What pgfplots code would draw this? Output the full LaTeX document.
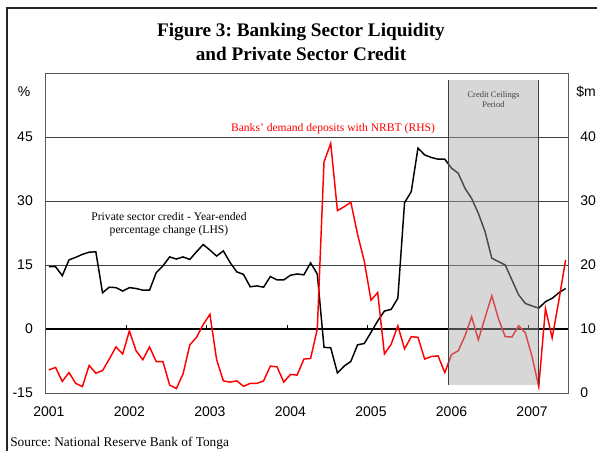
\documentclass[border=0pt]{standalone}
\usepackage{fontspec}
\setmainfont{Liberation Serif}
\setsansfont{Liberation Sans}
\usepackage{pgfplots}
\pgfplotsset{compat=1.18}
\newcommand{\pp}[2]{({(#1)*0.75pt},{-(#2)*0.75pt})}
\frenchspacing
\begin{document}
\begin{tikzpicture}
\path[use as bounding box] (0,0) rectangle (447.75pt,-338.25pt);
\draw[line width=1.4pt, black!85] \pp{7}{451} -- \pp{7}{8} -- \pp{597}{8};
\begin{axis}[
  at={(34.125pt,-294.75pt)}, anchor=south west, scale only axis,
  width=392.6pt, height=240pt,
  xmin=-0.5, xmax=77.5, ymin=-15, ymax=60,
  xtick={0,12,24,36,48,60,72},
  xticklabels={2001,2002,2003,2004,2005,2006,2007},
  ytick={-15,0,15,30,45},
  yticklabels={-15,0,15,30,45},
  major tick length=0pt,
  ymajorgrids, grid style={black!75, line width=0.6pt},
  tick label style={font=\sffamily\fontsize{10.5}{12}\selectfont},
  xticklabel style={yshift=-7pt},
  yticklabel style={xshift=-6pt},
  ytick pos=left, xtick pos=bottom,
  axis line style={black!65, line width=0.7pt},
]
\draw[black, line width=0.8pt] (axis cs:-0.5,0) -- (axis cs:77.5,0);
\pgfplotsinvokeforeach{11.5,23.5,35.5,47.5,59.5,71.5}{
  \draw[black, line width=0.6pt] (axis cs:#1,0) -- (axis cs:#1,0.9);
}
\addplot[black, line width=1.1pt] coordinates {
(0,14.6) (1,14.6) (2,12.5) (3,16.2) (4,16.8) (5,17.5) (6,18.0) (7,18.1)
(8,8.5) (9,9.8) (10,9.7) (11,8.9) (12,9.7) (13,9.5) (14,9.1) (15,9.1)
(16,13.2) (17,14.8) (18,16.9) (19,16.4) (20,16.9) (21,16.3) (22,18.1) (23,19.8)
(24,18.5) (25,17.1) (26,18.3) (27,15.6) (28,13.4) (29,12.8) (30,9.9) (31,10.1)
(32,9.8) (33,12.3) (34,11.5) (35,11.5) (36,12.6) (37,12.9) (38,12.7) (39,15.5)
(40,12.9) (41,-4.3) (42,-4.4) (43,-10.3) (44,-8.7) (45,-7.6) (46,-3.7) (47,-3.4)
(48,-0.8) (49,1.9) (50,4.2) (51,4.6) (52,7.2) (53,29.6) (54,32.2) (55,42.4)
(56,40.8) (57,40.2) (58,39.8) (59,39.8) (60,37.7) (61,36.5) (62,33.0) (63,30.6)
(64,27.1) (65,22.8) (66,16.6) (67,15.8) (68,15.0) (69,11.5) (70,8.0) (71,6.0)
(72,5.4) (73,4.9) (74,6.4) (75,7.2) (76,8.5) (77,9.5)
};
\end{axis}
\begin{axis}[
  at={(34.125pt,-294.75pt)}, anchor=south west, scale only axis,
  width=392.6pt, height=240pt,
  xmin=-0.5, xmax=77.5, ymin=0, ymax=50,
  axis x line=none, axis y line*=right,
  ytick={0,10,20,30,40},
  yticklabels={0,10,20,30,40},
  major tick length=0pt,
  tick label style={font=\sffamily\fontsize{10.5}{12}\selectfont},
  yticklabel style={xshift=5pt},
  axis line style={black!65, line width=0.7pt},
]
\addplot[red, line width=1.1pt] coordinates {
(0,3.6) (1,4.0) (2,1.8) (3,3.2) (4,1.5) (5,1.0) (6,4.3) (7,3.1)
(8,3.5) (9,5.3) (10,7.2) (11,6.1) (12,9.7) (13,6.6) (14,5.2) (15,7.2)
(16,4.9) (17,4.9) (18,1.25) (19,0.7) (20,3.0) (21,7.5) (22,8.7) (23,10.7)
(24,12.3) (25,5.2) (26,1.9) (27,1.7) (28,1.9) (29,1.05) (30,1.5) (31,1.5)
(32,1.9) (33,4.2) (34,4.1) (35,1.7) (36,2.9) (37,2.8) (38,5.3) (39,5.4)
(40,10.0) (41,36.1) (42,39.0) (43,28.5) (44,29.1) (45,29.8) (46,24.8) (47,20.6)
(48,14.5) (49,15.7) (50,6.1) (51,7.6) (52,10.5) (53,6.9) (54,8.8) (55,8.7)
(56,5.3) (57,5.7) (58,5.8) (59,3.2) (60,6.0) (61,6.6) (62,8.9) (63,11.9)
(64,8.3) (65,11.8) (66,15.2) (67,11.6) (68,8.8) (69,8.75) (70,10.5) (71,9.4)
(72,5.7) (73,1.0) (74,13.2) (75,8.6) (76,14.5) (77,20.8)
};
\fill[black!35, fill opacity=0.45] (axis cs:59.5,1.25) rectangle (axis cs:73,48.9);
\draw[black!75, line width=0.7pt] (axis cs:59.5,1.25) -- (axis cs:59.5,48.9);
\draw[black!75, line width=0.7pt] (axis cs:73,1.25) -- (axis cs:73,48.9);
\node[align=center, font=\fontsize{6.4}{7.5}\selectfont, text=black!75, anchor=north] at (axis cs:66.25,47.8) {Credit Ceilings\\Period};
\end{axis}
\node[font=\bfseries\fontsize{14.4}{16}\selectfont] at \pp{301}{32} {Figure 3: Banking Sector Liquidity};
\node[font=\bfseries\fontsize{14.4}{16}\selectfont] at \pp{301}{54} {and Private Sector Credit};
\node[font=\sffamily\fontsize{10.5}{12}\selectfont] at \pp{24}{92} {\%};
\node[font=\sffamily\fontsize{10.5}{12}\selectfont, anchor=west, inner sep=0pt] at \pp{576}{92} {\$m};
\node[font=\fontsize{8.7}{10}\selectfont, text=red] at \pp{333}{129} {Banks' demand deposits with NRBT (RHS)};
\node[font=\fontsize{8.7}{10}\selectfont, align=center] at \pp{169}{224} {Private sector credit - Year-ended\\percentage change (LHS)};
\node[font=\fontsize{10}{12}\selectfont, anchor=west, inner sep=0pt] at \pp{10}{443} {Source: National Reserve Bank of Tonga};
\end{tikzpicture}
\end{document}
